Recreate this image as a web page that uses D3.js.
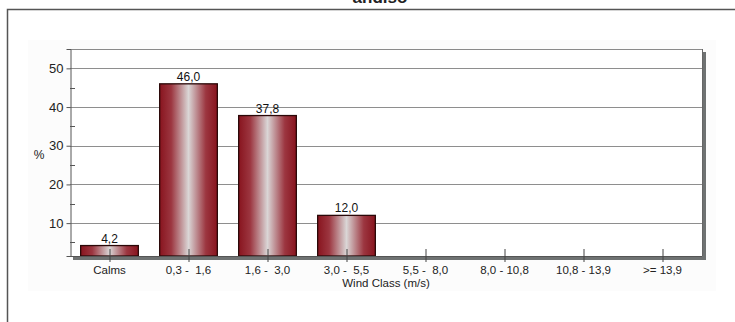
<!DOCTYPE html>
<html>
<head>
<meta charset="utf-8">
<script src="https://cdn.jsdelivr.net/npm/d3@7"></script>
<style>
  html, body { margin: 0; padding: 0; background: #fff; }
  svg { display: block; font-family: "Liberation Sans", Arial, sans-serif; }
</style>
</head>
<body>
<svg id="chart" width="735" height="322"></svg>
<script>
// Wind class frequency distribution
const categories = ["Calms", "0,3 -  1,6", "1,6 -  3,0", "3,0 -  5,5", "5,5 -  8,0", "8,0 - 10,8", "10,8 - 13,9", ">= 13,9"];
const frequencies = [4.2, 46.0, 37.8, 12.0, 0, 0, 0, 0];
const majorTicks = [10, 20, 30, 40, 50];
const minorTicks = [5, 15, 25, 35, 45];
const yLabel = "%";
const xLabel = "Wind Class (m/s)";
const titleText = "andiso";

const svg = d3.select("#chart");
const W = 735, H = 322;
const plot = { left: 70, right: 702, top: 49, bottom: 256 };

const x = d3.scaleBand()
  .domain(categories)
  .range([plot.left, plot.right])
  .paddingInner(0.27)
  .paddingOuter(0.135);

const yMin = 1.5, yMax = 55;
const y = d3.scaleLinear().domain([yMin, yMax]).range([plot.bottom, plot.top]);

// bar fill: dark red edges, pale centre
const defs = svg.append("defs");
const grad = defs.append("linearGradient").attr("id", "barFill")
  .attr("x1", "0%").attr("x2", "100%").attr("y1", "0%").attr("y2", "0%");
[[0, "#88141e"], [0.2, "#9c3640"], [0.5, "#dad6d6"], [0.8, "#9c3640"], [1, "#88141e"]]
  .forEach(([o, c]) => grad.append("stop").attr("offset", o).attr("stop-color", c));

// title (cropped at the top edge)
svg.append("text")
  .attr("x", 380).attr("y", 3)
  .attr("text-anchor", "middle")
  .attr("font-size", 17).attr("font-weight", "bold").attr("fill", "#222")
  .text(titleText);

// outer frame
svg.append("rect")
  .attr("x", 7.5).attr("y", 9.5).attr("width", W + 10).attr("height", H + 10)
  .attr("fill", "#fff").attr("stroke", "#555").attr("stroke-width", 1.5);

// faint panel behind the chart
svg.append("rect")
  .attr("x", 28).attr("y", 40).attr("width", 688).attr("height", 251)
  .attr("fill", "#fcfcfc");

// plot background
svg.append("rect")
  .attr("x", plot.left).attr("y", plot.top)
  .attr("width", plot.right - plot.left).attr("height", plot.bottom - plot.top)
  .attr("fill", "#fff");

// drop shadow on right and bottom of the plot frame
svg.append("rect")
  .attr("x", plot.right).attr("y", plot.top + 3)
  .attr("width", 4).attr("height", plot.bottom - plot.top + 1)
  .attr("fill", "#6f7272");
svg.append("rect")
  .attr("x", plot.left + 3).attr("y", plot.bottom)
  .attr("width", plot.right - plot.left + 1).attr("height", 4)
  .attr("fill", "#6f7272");

// gridlines
svg.append("g").selectAll("line").data(majorTicks).join("line")
  .attr("x1", plot.left).attr("x2", plot.right)
  .attr("y1", d => Math.round(y(d)) + 0.5).attr("y2", d => Math.round(y(d)) + 0.5)
  .attr("stroke", "#8e8e8e").attr("stroke-width", 1);

// plot frame top
svg.append("line")
  .attr("x1", plot.left).attr("x2", plot.right)
  .attr("y1", plot.top + 0.5).attr("y2", plot.top + 0.5)
  .attr("stroke", "#8a8a8a");

// y axis
const yAxis = d3.axisLeft(y).tickValues(majorTicks).tickSize(4).tickPadding(3).tickFormat(d3.format("d"));
const gy = svg.append("g").attr("transform", `translate(${plot.left + 0.5},0)`).call(yAxis);
gy.select(".domain").attr("stroke", "#555");
gy.selectAll(".tick line").attr("stroke", "#555");
gy.selectAll(".tick text").attr("font-size", 13).attr("fill", "#222")
  .attr("font-family", "Liberation Sans, Arial, sans-serif");

// minor ticks inside the plot
svg.append("g").selectAll("line").data(minorTicks).join("line")
  .attr("x1", plot.left).attr("x2", plot.left + 5)
  .attr("y1", d => Math.round(y(d)) + 0.5).attr("y2", d => Math.round(y(d)) + 0.5)
  .attr("stroke", "#555");

// bars
const shown = categories.map((c, i) => ({ c, v: frequencies[i] })).filter(d => d.v > 0);
svg.append("g").selectAll("rect").data(shown).join("rect")
  .attr("x", d => x(d.c))
  .attr("y", d => y(d.v))
  .attr("width", x.bandwidth())
  .attr("height", d => y(yMin) - y(d.v))
  .attr("fill", "url(#barFill)")
  .attr("stroke", "#2a0808").attr("stroke-width", 1.3);

// value labels
svg.append("g").selectAll("text").data(shown).join("text")
  .attr("x", d => x(d.c) + x.bandwidth() / 2)
  .attr("y", d => y(d.v) - 3)
  .attr("text-anchor", "middle")
  .attr("font-size", 12).attr("fill", "#111")
  .text(d => d3.format(".1f")(d.v).replace(".", ","));

// bottom axis line
svg.append("line")
  .attr("x1", plot.left).attr("x2", plot.right)
  .attr("y1", plot.bottom + 0.5).attr("y2", plot.bottom + 0.5)
  .attr("stroke", "#555");
// right frame line
svg.append("line")
  .attr("x1", plot.right + 0.5).attr("x2", plot.right + 0.5)
  .attr("y1", plot.top).attr("y2", plot.bottom)
  .attr("stroke", "#666");

// x ticks crossing the axis, and category labels
const xAxis = d3.axisBottom(x).tickSize(0).tickPadding(0);
const gx = svg.append("g").attr("transform", `translate(0,${plot.bottom})`).call(xAxis);
gx.select(".domain").remove();
gx.selectAll(".tick line").remove();
gx.selectAll(".tick").append("line")
  .attr("x1", 0.5).attr("x2", 0.5).attr("y1", -7).attr("y2", 6)
  .attr("stroke", "#444");
gx.selectAll(".tick text")
  .attr("y", 18).attr("dy", 0)
  .attr("font-size", 11.5).attr("fill", "#222")
  .attr("font-family", "Liberation Sans, Arial, sans-serif")
  .style("white-space", "pre");

// axis titles
svg.append("text")
  .attr("x", (plot.left + plot.right) / 2).attr("y", 287)
  .attr("text-anchor", "middle").attr("font-size", 11.5).attr("fill", "#222")
  .text(xLabel);
svg.append("text")
  .attr("x", 39).attr("y", 159)
  .attr("text-anchor", "middle").attr("font-size", 12).attr("fill", "#222")
  .text(yLabel);
</script>
</body>
</html>
